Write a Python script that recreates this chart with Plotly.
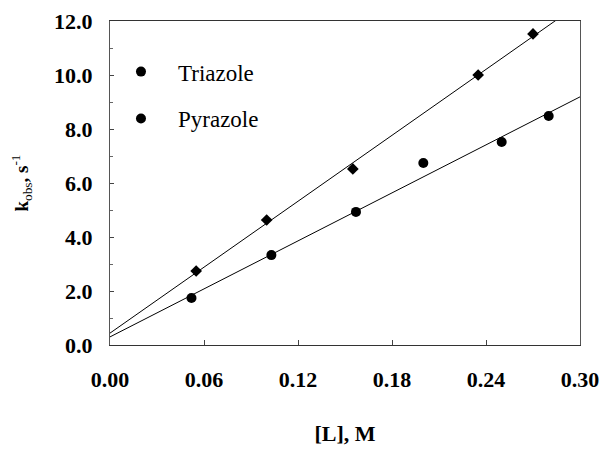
import plotly.graph_objects as go

# Data
tri_x = [0.055, 0.100, 0.155, 0.235, 0.270]
tri_y = [2.74, 4.63, 6.52, 10.0, 11.52]
pyr_x = [0.052, 0.103, 0.157, 0.200, 0.250, 0.280]
pyr_y = [1.74, 3.33, 4.93, 6.74, 7.52, 8.48]

# Fitted straight lines (end points)
tri_fit_x = [0.0, 0.30]
tri_fit_y = [0.44, 12.65]
pyr_fit_x = [0.0, 0.30]
pyr_fit_y = [0.30, 9.19]

x_ticks = [0.00, 0.06, 0.12, 0.18, 0.24, 0.30]
x_labels = ["0.00", "0.06", "0.12", "0.18", "0.24", "0.30"]
y_ticks = [0, 2, 4, 6, 8, 10, 12]
y_labels = ["0.0", "2.0", "4.0", "6.0", "8.0", "10.0", "12.0"]

FONT = "Liberation Serif"

fig = go.Figure()
fig.add_trace(go.Scatter(x=tri_fit_x, y=tri_fit_y, mode="lines",
                         line=dict(color="black", width=1), showlegend=False, hoverinfo="skip"))
fig.add_trace(go.Scatter(x=pyr_fit_x, y=pyr_fit_y, mode="lines",
                         line=dict(color="black", width=1), showlegend=False, hoverinfo="skip"))
fig.add_trace(go.Scatter(x=tri_x, y=tri_y, mode="markers",
                         marker=dict(symbol="diamond", size=9, color="black"),
                         showlegend=False, name="Triazole"))
fig.add_trace(go.Scatter(x=pyr_x, y=pyr_y, mode="markers",
                         marker=dict(symbol="circle", size=10, color="black"),
                         showlegend=False, name="Pyrazole"))
# legend entries (both drawn with round markers, as in the reference)
fig.add_trace(go.Scatter(x=[None], y=[None], mode="markers", name="Triazole",
                         marker=dict(symbol="circle", size=10, color="black"),
                         legendgroup="a"))
fig.add_trace(go.Scatter(x=[None], y=[None], mode="markers", name="Pyrazole",
                         marker=dict(symbol="circle", size=10, color="black"),
                         legendgroup="b"))

fig.update_layout(
    width=602, height=450,
    margin=dict(l=110, r=22, t=21, b=105),
    plot_bgcolor="white", paper_bgcolor="white",
    font=dict(family=FONT, color="black"),
    legend=dict(x=-0.0128, y=0.91, xanchor="left", yanchor="top",
                font=dict(family=FONT, size=23, color="black"),
                itemwidth=64, tracegroupgap=14, bgcolor="rgba(0,0,0,0)"),
)
fig.update_xaxes(
    range=[0, 0.30], tickvals=x_ticks, ticktext=x_labels, automargin=False,
    tickfont=dict(family=FONT, size=22, color="black", weight="bold"),
    ticks="inside", ticklen=5, tickcolor="#444",
    showline=True, linecolor="#333", linewidth=1, mirror=True,
    showgrid=False, zeroline=False, ticklabelstandoff=15,
    title=dict(text="[L], M", font=dict(family=FONT, size=22, color="black", weight="bold"),
               standoff=34),
)
fig.update_yaxes(
    range=[0, 12], tickvals=y_ticks, ticktext=y_labels, automargin=False,
    tickfont=dict(family=FONT, size=22, color="black", weight="bold"),
    ticks="inside", ticklen=4, tickcolor="#444",
    minor=dict(dtick=1, ticks="inside", ticklen=3, tickcolor="#666"),
    showline=True, linecolor="#555", linewidth=1, mirror=True,
    showgrid=False, zeroline=False, ticklabelstandoff=12,
    title=dict(text="<b>k</b><sub>obs</sub><b>, s</b><sup>-1</sup>",
               font=dict(family=FONT, size=19, color="black"), standoff=20),
)

fig.write_html("out.html")
